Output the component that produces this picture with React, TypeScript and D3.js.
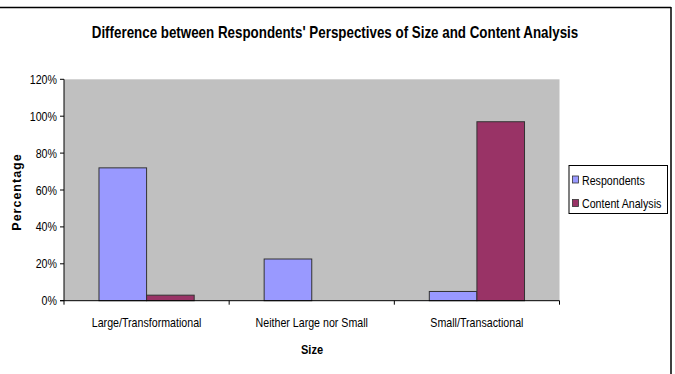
import React from "react";
import * as d3 from "d3";

const categories = ["Large/Transformational", "Neither Large nor Small", "Small/Transactional"];
const seriesNames = ["Respondents", "Content Analysis"];
const respondents = [0.72, 0.226, 0.05];
const contentAnalysis = [0.03, 0, 0.97];
const yTicks = [0, 0.2, 0.4, 0.6, 0.8, 1.0, 1.2];
const colors = ["#9999FF", "#993366"];

const W = 675, H = 374;
const plot = { left: 64, right: 559.5, top: 79.3, bottom: 300.7 };
const font = "'Liberation Sans', Arial, sans-serif";
const SX = 0.82;

function NText(props: { x: number; y: number; anchor?: string; size: number; bold?: boolean; children: React.ReactNode }) {
  return (
    <g transform={`translate(${props.x},${props.y}) scale(${SX},1)`}>
      <text x={0} y={0} textAnchor={props.anchor || "start"} fontFamily={font} fontSize={props.size}
        fontWeight={props.bold ? "bold" : "normal"} fill="#000">{props.children}</text>
    </g>
  );
}

export default function App() {
  const x0 = d3.scaleBand<string>().domain(categories).range([plot.left, plot.right]).paddingInner(0).paddingOuter(0);
  const x1 = d3.scaleBand<string>().domain(seriesNames).range([0, x0.bandwidth()]).paddingInner(0).paddingOuter(0.735);
  const y = d3.scaleLinear().domain([0, 1.2]).range([plot.bottom, plot.top]);
  const data = [respondents, contentAnalysis];
  const fmt = d3.format(".0%");

  return (
    <svg width={W} height={H} style={{ position: "absolute", left: 0, top: 0, background: "#fff" }}>
      <rect x={0} y={0} width={W} height={H} fill="#fff" />
      <line x1={0} x2={671} y1={7.5} y2={7.5} stroke="#000" strokeWidth={1.5} />
      <line x1={671} x2={671} y1={7} y2={H} stroke="#000" strokeWidth={1.5} />
      <NText x={335} y={37.5} anchor="middle" size={16.3} bold>
        Difference between Respondents' Perspectives of Size and Content Analysis
      </NText>
      <rect x={plot.left} y={plot.top} width={plot.right - plot.left} height={plot.bottom - plot.top} fill="#C0C0C0" />
      {data.map((vals, si) =>
        categories.map((c, ci) => {
          const v = vals[ci];
          if (v <= 0) return null;
          return (
            <rect key={si + "-" + ci}
              x={(x0(c) as number) + (x1(seriesNames[si]) as number)}
              y={y(v)}
              width={x1.bandwidth()}
              height={plot.bottom - y(v)}
              fill={colors[si]} stroke="#333" strokeWidth={1} />
          );
        })
      )}
      <line x1={plot.left} x2={plot.left} y1={plot.top} y2={plot.bottom} stroke="#000" strokeWidth={1} />
      <line x1={plot.left - 4} x2={plot.right} y1={plot.bottom} y2={plot.bottom} stroke="#000" strokeWidth={1} />
      {yTicks.map((t) => (
        <g key={t}>
          <line x1={plot.left - 4} x2={plot.left} y1={y(t)} y2={y(t)} stroke="#000" />
          <NText x={plot.left - 7} y={y(t) + 4.5} anchor="end" size={13}>{fmt(t)}</NText>
        </g>
      ))}
      {categories.map((c, i) => (
        <line key={"t" + i} x1={x0(c) as number} x2={x0(c) as number} y1={plot.bottom} y2={plot.bottom + 4} stroke="#000" />
      ))}
      <line x1={plot.right} x2={plot.right} y1={plot.bottom} y2={plot.bottom + 4} stroke="#000" />
      {categories.map((c) => (
        <NText key={c} x={(x0(c) as number) + x0.bandwidth() / 2} y={327} anchor="middle" size={13}>{c}</NText>
      ))}
      <NText x={312} y={354} anchor="middle" size={13.5} bold>Size</NText>
      <text transform="translate(21,192) rotate(-90)" textAnchor="middle" fontFamily={font} fontWeight="bold"
        fontSize={12.5} letterSpacing={1} fill="#000">Percentage</text>
      <rect x={569} y={165.5} width={98.5} height={48} fill="#fff" stroke="#000" strokeWidth={1} />
      {seriesNames.map((s, i) => (
        <g key={s}>
          <rect x={572.5} y={176 + i * 23.5} width={6} height={7} fill={colors[i]} stroke="#333" strokeWidth={0.8} />
          <NText x={582} y={184.5 + i * 23.5} size={13}>{s}</NText>
        </g>
      ))}
    </svg>
  );
}
